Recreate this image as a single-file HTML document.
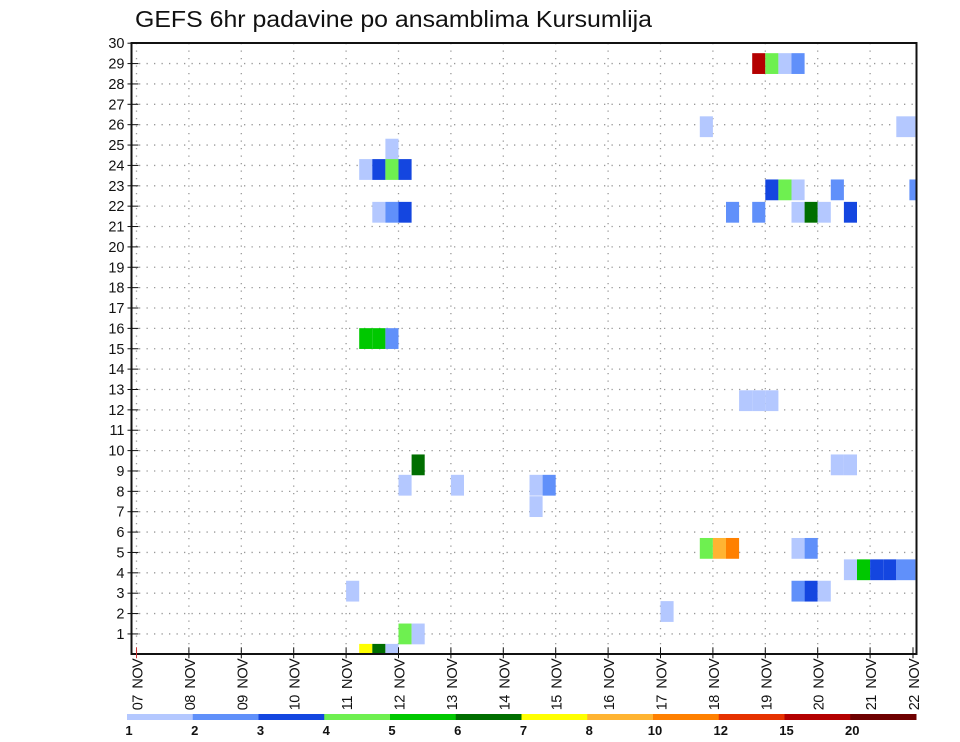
<!DOCTYPE html>
<html><head><meta charset="utf-8"><style>
html,body{margin:0;padding:0;background:#fff;}
svg{display:block;font-family:"Liberation Sans",sans-serif;}
</style></head><body>
<svg id="chart" width="960" height="742" viewBox="0 0 960 742" xmlns="http://www.w3.org/2000/svg">
<text x="135" y="27" font-size="23" textLength="517" lengthAdjust="spacingAndGlyphs" fill="#111">GEFS 6hr padavine po ansamblima Kursumlija</text>
<g id="grid"></g>
<g id="cells"></g>
<rect x="131.5" y="43" width="785" height="611" fill="none" stroke="#111" stroke-width="2"/>
<g id="yaxis"></g>
<g id="xaxis"></g>
<g id="legend"></g>
</svg>
<script>
const dayLabels = ["07 NOV","08 NOV","09 NOV","10 NOV","11 NOV","12 NOV","13 NOV","14 NOV","15 NOV","16 NOV","17 NOV","18 NOV","19 NOV","20 NOV","21 NOV","22 NOV"];
const memberTicks = [1,2,3,4,5,6,7,8,9,10,11,12,13,14,15,16,17,18,19,20,21,22,23,24,25,26,27,28,29,30];
const levelLabels = ["1","2","3","4","5","6","7","8","10","12","15","20"];
const levelColors = ["#b4c8ff","#6090fa","#1446e0","#6ef050","#00c800","#006e00","#ffff00","#ffb432","#ff8000","#e63200","#b40000","#6e0000"];
// cells: 6-hour step index from 07 NOV 00Z, ensemble member row, colour level index
const cellStep  = [47,48,49,50, 43,58, 19, 17,18,19,20, 48,49,50,50,53,59, 18,19,20,45,47,51,52,54, 17,18,19, 46,47,48, 21,53,54, 20,24,30,30,31, 43,44,45,50,51, 54,55,56,57,58, 50,51,52,16, 40, 20,21, 17,18,19];
const cellRow   = [29,29,29,29, 25.9,25.9, 24.8, 23.8,23.8,23.8,23.8, 22.8,22.8,22.8,21.7,22.8,22.8, 21.7,21.7,21.7,21.7,21.7,21.7,21.7,21.7, 15.5,15.5,15.5, 12.45,12.45,12.45, 9.3,9.3,9.3, 8.3,8.3,8.3,7.25,8.3, 5.2,5.2,5.2,5.2,5.2, 4.15,4.15,4.15,4.15,4.15, 3.1,3.1,3.1,3.1, 2.1, 1,1, 0,0,0];
const cellLevel = [10,3,0,1, 0,0, 0, 0,2,3,2, 2,3,0,0,1,1, 0,1,2,1,1,5,0,2, 4,4,1, 0,0,0, 5,0,0, 0,0,0,0,1, 3,7,8,0,1, 0,4,2,2,1, 1,2,0,0, 0, 3,0, 6,5,0];

const NS="http://www.w3.org/2000/svg";
const X0=136.5, DAY=52.4, Y0=654.3, ROW=20.37, LEFT=131.5, RIGHT=916.5, TOP=43;
const xDay=d=>X0+d*DAY;
const xStep=s=>X0+s*DAY/4;
const yRow=r=>Y0-r*ROW;
function mk(tag,attrs,parent){const e=document.createElementNS(NS,tag);for(const k in attrs)e.setAttribute(k,attrs[k]);parent.appendChild(e);return e;}
const grid=document.getElementById('grid');
memberTicks.forEach(m=>{ if(m<30){
  const l=mk('line',{x1:LEFT,x2:RIGHT,y1:yRow(m),y2:yRow(m),stroke:'#999','stroke-width':1.3,'stroke-dasharray':'1.3 6.2'},grid);
  
  
}});
dayLabels.forEach((d,i)=>{ const x=xDay(i); if(x<RIGHT-2){
  const l=mk('line',{x1:x,x2:x,y1:TOP,y2:Y0,stroke:'#999','stroke-width':1.3,'stroke-dasharray':'1.3 6.2'},grid);
  
  
}});
const cells=document.getElementById('cells');
const clip=mk('clipPath',{id:'pc'},mk('defs',{},document.getElementById('chart')));
mk('rect',{x:LEFT,y:TOP,width:RIGHT-LEFT,height:Y0-TOP},clip);
cells.setAttribute('clip-path','url(#pc)');
cellStep.forEach((s,i)=>{
  const x=xStep(s), yc=yRow(cellRow[i]);
  const r=mk('rect',{x:x,y:yc-10.4,width:DAY/4+(s>=58?6:0),height:20.8,fill:levelColors[cellLevel[i]]},cells);
  
  
});
const ya=document.getElementById('yaxis');
memberTicks.forEach(m=>{
  const y=yRow(m);
  const t=mk('line',{x1:LEFT-4,x2:LEFT+7,y1:y,y2:y,stroke:'#111','stroke-width':1},ya);
  
  
  const tx=mk('text',{x:LEFT-7,y:y+5,'font-size':14.5,'text-anchor':'end',fill:'#111'},ya);
  tx.textContent=m;
  
  
});
const xa=document.getElementById('xaxis');
dayLabels.forEach((d,i)=>{
  let x=xDay(i); if(x>RIGHT) x=913;
  const t=mk('line',{x1:x,x2:x,y1:Y0-7,y2:Y0+4,stroke:i==0?'#c33':'#111','stroke-width':1},xa);
  
  
  const tx=mk('text',{x:0,y:0,'font-size':14.5,fill:'#111','text-anchor':'end',textLength:52,lengthAdjust:'spacing',transform:`translate(${x+6},${Y0+4}) rotate(-90)`},xa);
  tx.textContent=d.replace(' ','\u2002');
  
  
});
const lg=document.getElementById('legend');
const LW=(916-127)/levelLabels.length;
levelLabels.forEach((l,i)=>{
  const r=mk('rect',{x:127+i*LW,y:714,width:LW+0.5,height:6,fill:levelColors[i]},lg);
  
  
  const t=mk('text',{x:127+i*LW+2,y:735,'font-size':13,'font-weight':'bold','text-anchor':'middle',fill:'#111'},lg);
  t.textContent=l;
  
  
});
</script>
</body></html>
